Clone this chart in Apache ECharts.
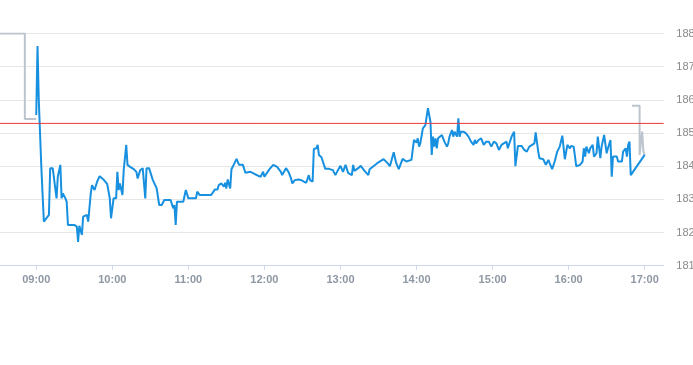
<!DOCTYPE html>
<html>
<head>
<meta charset="utf-8">
<script src="https://cdn.jsdelivr.net/npm/echarts@6/dist/echarts.min.js"></script>
<style>
html,body{margin:0;padding:0;background:#fff;overflow:hidden;}
#chart{width:693px;height:365px;}
</style>
</head>
<body>
<div id="chart"></div>
<script>
// ---- data ----
const xTickLabels = ['09:00','10:00','11:00','12:00','13:00','14:00','15:00','16:00','17:00'];
const yMin = 181, yMax = 188, yStep = 1;
const refPrice = 185.29;

const times = [
'09:00','09:01','09:02','09:04','09:06','09:07','09:10','09:11','09:13','09:16','09:17','09:18','09:19','09:20','09:21','09:22','09:23','09:24','09:25','09:30','09:32','09:33','09:34','09:36','09:37','09:40','09:41','09:43','09:44','09:46','09:48','09:50','09:53','09:56','09:58','09:59',
'10:01','10:03','10:04','10:05','10:06','10:07','10:08','10:09','10:11','10:12','10:14','10:17','10:19','10:20','10:22','10:24','10:26','10:27','10:29','10:32','10:35','10:37','10:39','10:41','10:46','10:48','10:49','10:50','10:51','10:56','10:58','10:59',
'11:00','11:06','11:07','11:09','11:18','11:21','11:23','11:24','11:26','11:28','11:29','11:30','11:31','11:32','11:33','11:34','11:35','11:38','11:39','11:40','11:43','11:45','11:46','11:49','11:53','11:57','11:58','11:59',
'12:00','12:01','12:04','12:07','12:10','12:13','12:14','12:17','12:19','12:21','12:22','12:24','12:27','12:29','12:33','12:35','12:36','12:38','12:39','12:41','12:42','12:43','12:45','12:48','12:51','12:54','12:56','12:58',
'13:00','13:02','13:04','13:06','13:09','13:10','13:11','13:14','13:16','13:19','13:22','13:23','13:29','13:34','13:37','13:39','13:42','13:44','13:46','13:49','13:52','13:56','13:58',
'14:00','14:01','14:02','14:03','14:05','14:07','14:09','14:11','14:12','14:13','14:14','14:15','14:16','14:17','14:18','14:20','14:22','14:24','14:25','14:26','14:28','14:29','14:30','14:32','14:33','14:34','14:35','14:37','14:39','14:41','14:43','14:45','14:46','14:47','14:49','14:51','14:53','14:55','14:57','14:59',
'15:01','15:03','15:05','15:06','15:07','15:11','15:12','15:15','15:17','15:18','15:20','15:23','15:25','15:27','15:29','15:33','15:34','15:36','15:37',
'15:40','15:42','15:44','15:45','15:47','15:49','15:51','15:53','15:55','15:57','15:59','16:01','16:02','16:04','16:06','16:09','16:11','16:12','16:13','16:14','16:16','16:17','16:19','16:20','16:22','16:23','16:25','16:26','16:28','16:30','16:31','16:33','16:34','16:35','16:38','16:39','16:42','16:43','16:45','16:46','16:47','16:48','16:49','17:00'
];
const prices = [
185.54,187.62,185.99,183.98,182.33,182.35,182.53,183.94,183.94,183.03,183.68,183.73,184.04,183.03,183.18,183.18,183.03,182.93,182.23,182.23,182.18,181.72,182.20,181.93,182.48,182.53,182.33,183.18,183.43,183.28,183.53,183.70,183.60,183.46,183.03,182.43,
183.03,183.03,183.83,183.28,183.48,183.53,183.13,183.88,184.64,184.04,183.98,183.91,183.83,183.63,183.88,183.94,183.03,183.94,183.94,183.58,183.33,182.83,182.83,182.98,182.98,182.73,182.83,182.23,182.93,182.93,183.28,183.33,
183.03,183.03,183.23,183.13,183.13,183.30,183.30,183.43,183.48,183.38,183.50,183.33,183.60,183.60,183.33,183.91,183.98,184.22,184.19,184.04,184.04,183.80,183.83,183.83,183.75,183.68,183.63,183.83,
183.68,183.73,183.91,184.04,183.98,183.83,183.73,183.94,183.83,183.63,183.48,183.58,183.60,183.58,183.50,183.73,183.58,183.53,184.52,184.54,184.64,184.34,184.27,183.92,183.92,183.88,183.73,183.88,
184.01,183.83,184.04,183.80,183.73,184.04,183.86,183.94,184.01,183.86,183.73,183.91,184.09,184.21,184.10,184.00,184.42,184.09,183.91,184.22,184.14,184.19,184.79,
184.71,184.84,184.59,184.69,185.14,185.24,185.75,185.34,184.34,184.89,184.59,184.84,184.54,184.84,184.79,184.94,184.74,184.59,184.69,184.89,185.09,184.89,185.04,184.89,185.44,184.89,185.04,185.04,184.99,184.89,184.74,184.64,184.79,184.69,184.79,184.84,184.64,184.74,184.74,184.59,
184.74,184.69,184.49,184.54,184.64,184.74,184.54,184.89,185.04,184.00,184.61,184.61,184.49,184.44,184.59,184.69,185.02,184.44,184.24,
184.21,184.04,184.19,184.09,183.91,184.14,184.44,184.59,184.92,184.21,184.64,184.54,184.61,184.59,184.00,184.04,184.14,184.54,184.29,184.59,184.39,184.54,184.64,184.29,184.39,184.89,184.24,184.59,184.94,184.39,184.54,184.79,183.68,184.29,184.29,184.14,184.14,184.44,184.54,184.29,184.64,184.74,183.73,184.34
];
// grey extended-hours segments
const preTimes = ['08:31','08:51','08:51','09:00'];
const prePrices = [188.00,188.00,185.42,185.42];
const postTimes = ['16:50','16:56','16:56','16:58','16:59','17:00'];
const postPrices = [185.82,185.82,184.34,185.04,184.43,184.34];

// ---- helpers ----
function toMin(s){ const p = s.split(':').map(Number); return (p[0]-9)*60 + p[1] + (p[2]||0)/60; }
function pairs(ts, vs){ return ts.map((t,i)=>[toMin(t), vs[i]]); }
const tickMins = xTickLabels.map(toMin);
const labelOf = {}; xTickLabels.forEach(l=>{ labelOf[toMin(l)] = l; });
const xMin = -28.6, xMax = 495;

const chart = echarts.init(document.getElementById('chart'), null, {renderer:'canvas'});
chart.setOption({
  animation:false,
  backgroundColor:'#fff',
  grid:{left:0, right:29.3, top:33.5, bottom:99.3, containLabel:false, outerBoundsMode:'none'},
  xAxis:{
    type:'value', min:xMin, max:xMax,
    axisLine:{show:true, lineStyle:{color:'#ccd6eb', width:1}},
    axisTick:{show:true, customValues:tickMins, length:4, lineStyle:{color:'#ccd6eb'}},
    axisLabel:{customValues:tickMins, formatter:v=>labelOf[v] || '', color:'#8e98a4', fontSize:11, fontWeight:'bold', fontFamily:'Liberation Sans, Arial, sans-serif', margin:9},
    splitLine:{show:false}
  },
  yAxis:{
    type:'value', position:'right', min:yMin, max:yMax, interval:yStep,
    axisLine:{show:false}, axisTick:{show:false},
    axisLabel:{color:'#8a8a8a', fontSize:11, fontFamily:'Liberation Sans, Arial, sans-serif', margin:12.6},
    splitLine:{lineStyle:{color:'#e6e6e6', width:1}}
  },
  series:[
    {type:'line', data:pairs(preTimes, prePrices), showSymbol:false, clip:true, z:2,
     lineStyle:{color:'#bcc5ce', width:2}, itemStyle:{color:'#bcc5ce'}},
    {type:'line', data:pairs(postTimes, postPrices), showSymbol:false, clip:true, z:2,
     lineStyle:{color:'#bcc5ce', width:2}, itemStyle:{color:'#bcc5ce'}},
    {type:'line', data:pairs(times, prices), showSymbol:false, clip:true, z:3,
     lineStyle:{color:'#1890e0', width:2}, itemStyle:{color:'#1890e0'}},
    {type:'line', name:'ref', data:[[xMin, refPrice],[xMax, refPrice]], showSymbol:false, silent:true, z:4,
     lineStyle:{color:'#e8383d', width:1, opacity:1}, itemStyle:{color:'#e8383d'}}
  ]
});
</script>
</body>
</html>
